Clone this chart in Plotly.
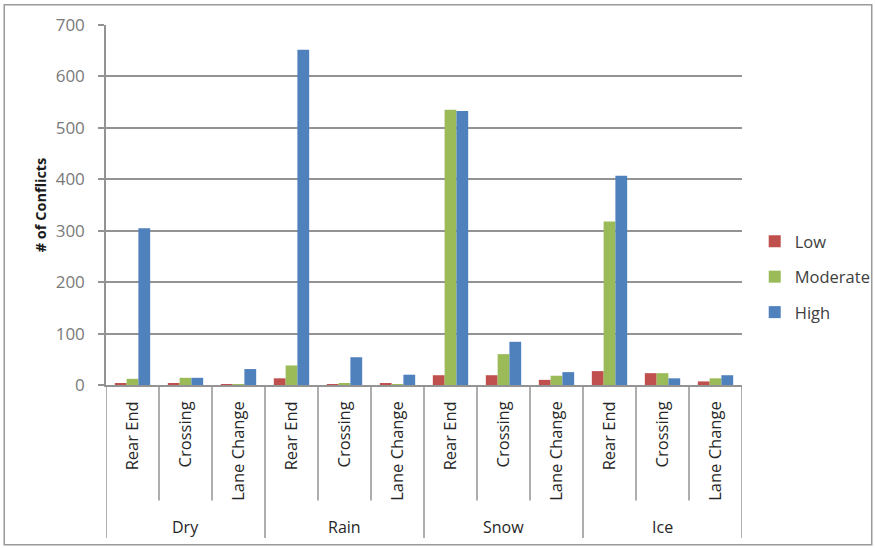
import plotly.graph_objects as go

# Conflict counts by weather condition and conflict type
conditions = ["Dry", "Rain", "Snow", "Ice"]
conflict_types = ["Rear End", "Crossing", "Lane Change"]

low = [3, 2, 1, 13, 1, 3, 19, 19, 10, 27, 23, 7]
moderate = [12, 14, 1, 38, 2, 1, 535, 60, 18, 318, 23, 13]
high = [305, 14, 31, 652, 54, 20, 533, 84, 25, 407, 13, 19]

y_ticks = [0, 100, 200, 300, 400, 500, 600, 700]

FONT = "Open Sans"
GRID = "#939393"

positions = list(range(len(conditions) * len(conflict_types)))
inner_labels = [t for _ in conditions for t in conflict_types]

fig = go.Figure()
series = [("Low", low, "#C0504D"), ("Moderate", moderate, "#9BBB59"), ("High", high, "#4F81BD")]
for name, vals, color in series:
    fig.add_trace(go.Bar(
        x=positions, y=vals, name=name, legendgroup=name,
        marker=dict(color=color, line=dict(width=0)),
    ))

# group labels under the inner category labels
for i, cond in enumerate(conditions):
    fig.add_annotation(
        x=i * 3 + 1, y=-0.394, xref="x", yref="paper",
        text=cond, showarrow=False, font=dict(family=FONT, size=16, color="#262626"),
        yanchor="middle",
    )

# divider lines of the two-level category axis
n = len(positions)
for k in range(n + 1):
    is_group = (k % 3 == 0)
    fig.add_shape(
        type="line", xref="x", yref="paper",
        x0=k - 0.5, x1=k - 0.5, y0=0, y1=-0.425 if is_group else -0.321,
        line=dict(color=GRID, width=1.5),
    )

# outer chart border
fig.add_shape(
    type="rect", xref="paper", yref="paper",
    x0=-0.160, x1=1.204, y0=-0.444, y1=1.056,
    line=dict(color="#9a9a9a", width=1.5),
)

fig.update_layout(
    width=875, height=548,
    margin=dict(l=106, r=133, t=25, b=163, autoexpand=False),
    paper_bgcolor="white", plot_bgcolor="white",
    bargap=0.333, bargroupgap=0,
    font=dict(family=FONT, size=14, color="#333333"),
    showlegend=True,
    legend=dict(
        x=1.02, y=0.30, xanchor="left", yanchor="middle",
        bgcolor="rgba(0,0,0,0)",
        traceorder="grouped", tracegroupgap=11,
        font=dict(family=FONT, size=16.5, color="#404040"),
        itemwidth=30,
    ),
    xaxis=dict(
        range=[-0.5, n - 0.5],
        tickmode="array", tickvals=positions, ticktext=inner_labels,
        tickangle=-90, ticks="", ticklabelstandoff=8,
        tickfont=dict(family=FONT, size=16.5, color="#262626"),
        showline=True, linecolor=GRID, linewidth=1.5,
        showgrid=False, zeroline=False,
    ),
    yaxis=dict(
        range=[0, 700], tickmode="array", tickvals=y_ticks,
        ticks="outside", ticklen=6, tickcolor=GRID, tickwidth=1.5,
        ticklabelstandoff=10,
        tickfont=dict(family=FONT, size=17, color="#7a7a7a"),
        showline=True, linecolor=GRID, linewidth=1.5,
        showgrid=True, gridcolor=GRID, gridwidth=1.5,
        zeroline=False,
        title=dict(text="<b># of Conflicts</b>", standoff=6,
                   font=dict(family=FONT, size=14.5, color="#1a1a1a")),
    ),
)

fig.write_html("out.html")
